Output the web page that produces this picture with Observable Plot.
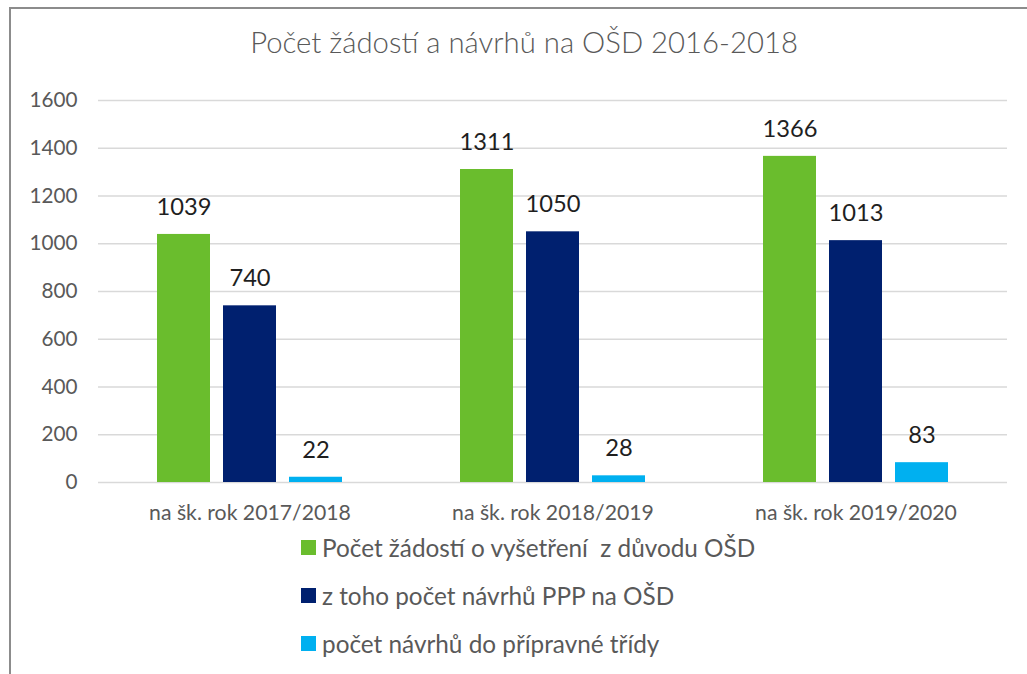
<!DOCTYPE html>
<html>
<head>
<meta charset="utf-8">
<script src="https://cdn.jsdelivr.net/npm/d3@7"></script>
<script src="https://cdn.jsdelivr.net/npm/@observablehq/plot@0.6"></script>
<style>
  html, body { margin: 0; padding: 0; background: #fff; }
  #wrap { position: relative; width: 1027px; height: 674px; overflow: hidden; background: #fff; font-family: Lato, "Open Sans", sans-serif; }
  #frame { position: absolute; left: 9px; top: 7px; width: 3000px; height: 3000px; border-top: 2px solid #8c8c8c; border-left: 2px solid #8c8c8c; }
  #chart { position: absolute; left: 0; top: 0; }
  #title { position: absolute; white-space: pre; color: #595959; font-weight: 300; line-height: 1.2; transform: translateX(-50%); }
  .leg { position: absolute; left: 301px; display: flex; align-items: center; white-space: pre; color: #595959; line-height: 1.2; }
  .sw { width: 15px; height: 15px; margin-right: 6px; flex: none; }
</style>
</head>
<body>
<div id="wrap">
  <div id="frame"></div>
  <div id="chart"></div>
  <div id="title"></div>
  <div id="legend"></div>
</div>
<script>
// ---- data ----
const title = "Počet žádostí a návrhů na OŠD 2016-2018";
const categories = ["na šk. rok 2017/2018", "na šk. rok 2018/2019", "na šk. rok 2019/2020"];
const seriesNames = [
  "Počet žádostí o vyšetření  z důvodu OŠD",
  "z toho počet návrhů PPP na OŠD",
  "počet návrhů do přípravné třídy"
];
const zadosti = [1039, 1311, 1366];
const navrhyPPP = [740, 1050, 1013];
const pripravna = [22, 28, 83];
const yTicks = [0, 200, 400, 600, 800, 1000, 1200, 1400, 1600];
const colors = ["#6abd2d", "#00206f", "#00b0f0"];

const seriesValues = [zadosti, navrhyPPP, pripravna];
const data = [];
categories.forEach((cat, i) => {
  seriesNames.forEach((s, j) => data.push({cat, series: s, value: seriesValues[j][i]}));
});

// ---- font fitting helper (match reference text widths) ----
const ctx = document.createElement("canvas").getContext("2d");
function fit(text, weight, target) {
  ctx.font = `${weight} 100px Lato`;
  return 100 * target / ctx.measureText(text).width;
}
const fTick = fit("1600", 400, 48);
const fVal = fit("1039", 400, 55);
const fCat = fit(categories[0], 400, 202);
const fLeg = fit(seriesNames[0], 400, 434);
const fTitle = fit(title, 300, 548);

const chart = Plot.plot({
  width: 1027,
  height: 560,
  marginTop: 100,
  marginBottom: 78,
  marginLeft: 97,
  marginRight: 19,
  style: {color: "#595959", fontFamily: "Lato, sans-serif", background: "transparent", overflow: "visible"},
  fx: {domain: categories, padding: 0, label: null},
  x: {domain: seriesNames, paddingInner: 0.194, paddingOuter: 0.863, axis: null},
  y: {domain: [0, 1600], label: null},
  color: {domain: seriesNames, range: colors},
  marks: [
    Plot.ruleY(yTicks, {stroke: "#d9d9d9", strokeWidth: 1.6}),
    Plot.axisY({ticks: yTicks, tickFormat: d => String(d), tickSize: 0, tickPadding: 21, fontSize: fTick, label: null}),
    Plot.axisFx({anchor: "bottom", tickSize: 0, tickPadding: 37 - 0.71 * fCat, fontSize: fCat, label: null}),
    Plot.barY(data, {fx: "cat", x: "series", y: "value", fill: "series"}),
    Plot.text(data, {fx: "cat", x: "series", y: "value", text: d => String(d.value), dy: -27, fontSize: fVal, fill: "#1f1f1f"})
  ]
});
document.getElementById("chart").appendChild(chart);

// ---- title ----
const t = document.getElementById("title");
t.textContent = title;
t.style.fontSize = fTitle + "px";
t.style.left = "524px";
t.style.top = (53 - 0.987 * fTitle) + "px";

// ---- legend ----
const leg = document.getElementById("legend");
const baselines = [556.7, 605, 653.3];
seriesNames.forEach((s, i) => {
  const item = document.createElement("div");
  item.className = "leg";
  item.style.fontSize = fLeg + "px";
  item.style.top = (baselines[i] - 0.987 * fLeg) + "px";
  const sw = document.createElement("span");
  sw.className = "sw";
  sw.style.background = colors[i];
  const tx = document.createElement("span");
  tx.textContent = s;
  item.appendChild(sw);
  item.appendChild(tx);
  leg.appendChild(item);
});
</script>
</body>
</html>
